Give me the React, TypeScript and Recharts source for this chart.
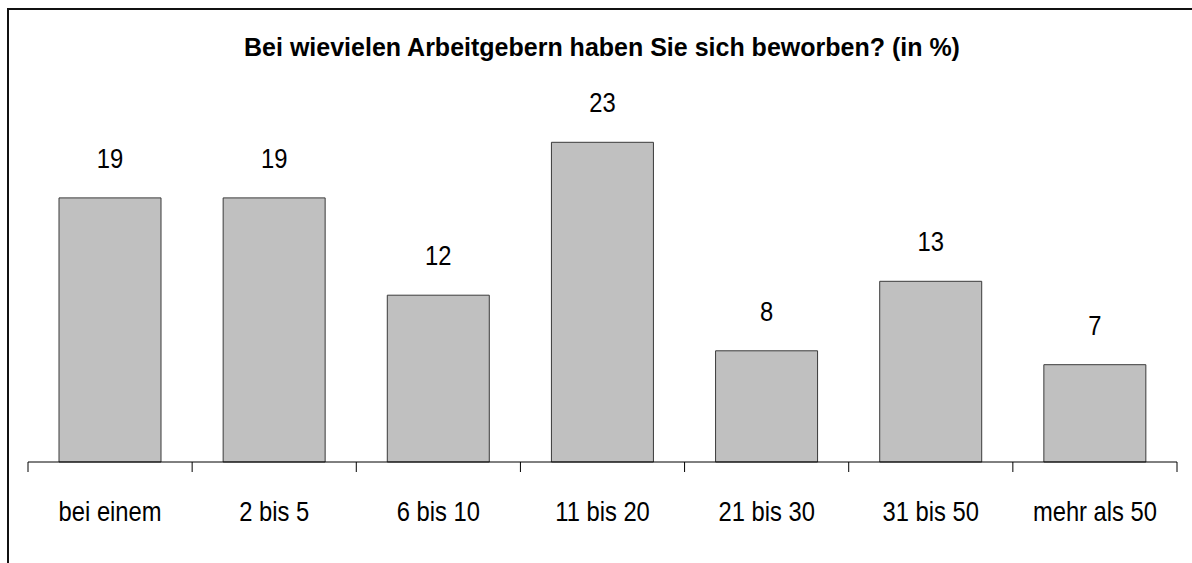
import React from 'react';
import { BarChart, Bar, XAxis, YAxis, LabelList } from 'recharts';

const categories = ['bei einem', '2 bis 5', '6 bis 10', '11 bis 20', '21 bis 30', '31 bis 50', 'mehr als 50'];
const shares = [19, 19, 12, 23, 8, 13, 7];
const yDomain = [0, 25];
const title = 'Bei wievielen Arbeitgebern haben Sie sich beworben? (in %)';

const data = categories.map((name, i) => ({ name, value: shares[i] }));

const FONT = '"Liberation Sans", Arial, Helvetica, sans-serif';

function CatTick(props: any) {
  const { x, y, payload, index, visibleTicksCount } = props;
  const half = payload && typeof payload.offset === 'number' && payload.offset > 0 ? payload.offset : 82;
  const isLast = index === (visibleTicksCount ?? categories.length) - 1;
  return (
    <g>
      <line x1={x - half} y1={y} x2={x - half} y2={y + 10} stroke="#000" strokeWidth={1} />
      {isLast ? <line x1={x + half} y1={y} x2={x + half} y2={y + 10} stroke="#000" strokeWidth={1} /> : null}
      <g transform={`translate(${x},${y + 58.5}) scale(0.88,1)`}>
        <text x={0} y={0} textAnchor="middle" fontSize={27} fontFamily={FONT} fill="#000">
          {payload.value}
        </text>
      </g>
    </g>
  );
}

function ValueLabel(props: any) {
  const { x, y, width, value } = props;
  return (
    <g transform={`translate(${x + width / 2},${y - 30}) scale(0.85,1)`}>
      <text x={0} y={0} textAnchor="middle" fontSize={28} fontFamily={FONT} fill="#000">
        {value}
      </text>
    </g>
  );
}

export default function App() {
  return (
    <div style={{ position: 'absolute', left: 0, top: 0, width: 1192, height: 563, background: '#fff', overflow: 'hidden' }}>
      <div
        style={{
          position: 'absolute',
          left: 7,
          top: 8,
          width: 1400,
          height: 800,
          borderLeft: '2px solid #111',
          borderTop: '2px solid #111',
        }}
      />
      <div
        style={{
          position: 'absolute',
          left: 0,
          top: 33,
          width: 1204,
          textAlign: 'center',
          fontFamily: FONT,
          fontWeight: 'bold',
          fontSize: 25,
          lineHeight: '28px',
          color: '#000',
          whiteSpace: 'nowrap',
        }}
      >
        {title}
      </div>
      <div style={{ position: 'absolute', left: 0, top: 0 }}>
        <BarChart
          width={1192}
          height={563}
          data={data}
          margin={{ top: 114.5, right: 15, bottom: 0, left: 28 }}
          barSize={102}
        >
          <XAxis
            dataKey="name"
            height={101}
            axisLine={{ stroke: '#000', strokeWidth: 1 }}
            tickLine={false}
            tickSize={0}
            tickMargin={0}
            interval={0}
            tick={<CatTick />}
          />
          <YAxis hide width={0} domain={yDomain} />
          <Bar dataKey="value" fill="#c0c0c0" stroke="#3a3a3a" strokeWidth={1} isAnimationActive={false}>
            <LabelList dataKey="value" content={<ValueLabel />} />
          </Bar>
        </BarChart>
      </div>
    </div>
  );
}
